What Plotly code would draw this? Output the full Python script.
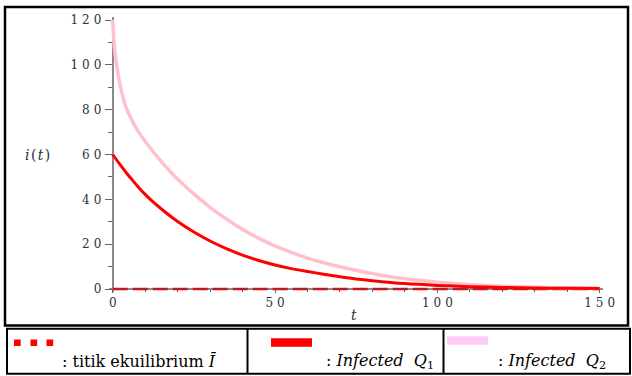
import plotly.graph_objects as go

# ---- data ----
t_q1 = [0, 2, 4, 6, 8, 10, 12, 15, 20, 25, 30, 35, 40, 45, 50, 55, 60, 65, 70, 75, 80, 90, 100, 110, 120, 130, 140, 150]
q1 = [60, 56, 52.2, 48.7, 45.3, 42.2, 39.4, 35.7, 30.1, 25.4, 21.4, 18.0, 15.1, 12.7, 10.7, 9.1, 7.8, 6.6, 5.5, 4.5, 3.7, 2.4, 1.6, 1.05, 0.7, 0.45, 0.3, 0.2]

t_q2 = [0, 0.5, 1, 2, 3, 4, 6, 8, 11.5, 15, 18, 21, 25, 30, 35, 40, 45, 50, 55, 60, 65, 70, 77, 85, 92, 100, 110, 120, 135, 150]
q2 = [120, 108, 102, 93, 86.5, 81.5, 75, 70, 63, 56.8, 52, 47.6, 42.4, 36.4, 31.2, 26.6, 22.6, 19.2, 16.3, 13.8, 11.7, 9.9, 7.7, 5.6, 4.2, 3.0, 1.9, 1.2, 0.6, 0.35]

t_eq = [0, 150]
i_eq = [0, 0]

y_ticks = [0, 20, 40, 60, 80, 100, 120]
x_ticks = [0, 50, 100, 150]

legend_labels = [": titik ekuilibrium <i>Ī</i>",
                 ": <i>Infected</i>\u00a0\u00a0<i>Q</i><sub>1</sub>",
                 ": <i>Infected</i>\u00a0\u00a0<i>Q</i><sub>2</sub>"]

# ---- layout geometry (pixels) ----
W, H = 632, 376
L, R, T, B = 109, 29, 17, 84
PW, PH = W - L - R, H - T - B


def px(x):
    return (x - L) / PW


def py(y):
    return (H - B - y) / PH


def spaced(v):
    return "\u2004".join(str(v))


xr = [-1.14, 151.02]
yr = [-1.34, 121.34]

fig = go.Figure()
fig.add_trace(go.Scatter(x=t_eq, y=i_eq, mode="lines",
                         line=dict(color="#c0181f", width=2.4, dash="15px,5px"),
                         showlegend=False, hoverinfo="skip"))
fig.add_trace(go.Scatter(x=t_q2, y=q2, mode="lines",
                         line=dict(color="#ffc0cb", width=3.5, shape="spline", smoothing=0.8),
                         showlegend=False))
fig.add_trace(go.Scatter(x=t_q1, y=q1, mode="lines",
                         line=dict(color="#ff0000", width=3, shape="spline", smoothing=0.8),
                         showlegend=False))

tickfont = dict(family="DejaVu Serif", size=12, color="#30303c")

fig.update_layout(
    width=W, height=H,
    margin=dict(l=L, r=R, t=T, b=B, pad=0),
    paper_bgcolor="white", plot_bgcolor="white",
    xaxis=dict(range=xr, anchor="free", position=1.34 / (yr[1] - yr[0]),
               showgrid=False, zeroline=False, showline=True, linecolor="#8a8a8a", linewidth=2,
               layer="below traces",
               tickmode="array", tickvals=x_ticks, ticktext=[spaced(v) for v in x_ticks],
               ticks="outside", ticklen=3, tickcolor="#666", tickwidth=1,
               minor=dict(dtick=10, ticks="outside", ticklen=2, tickcolor="#666"),
               tickfont=tickfont, ticklabelstandoff=0),
    yaxis=dict(range=yr, anchor="free", position=1.14 / (xr[1] - xr[0]),
               showgrid=False, zeroline=False, showline=True, linecolor="#8a8a8a", linewidth=2,
               layer="below traces",
               tickmode="array", tickvals=y_ticks, ticktext=[spaced(v) for v in y_ticks],
               ticks="outside", ticklen=7, tickcolor="#666", tickwidth=1,
               minor=dict(dtick=10, ticks="outside", ticklen=4, tickcolor="#666"),
               tickfont=tickfont, ticklabelstandoff=1),
    showlegend=False,
)

shapes = []
# outer plot frame
shapes.append(dict(type="rect", xref="paper", yref="paper",
                   x0=px(5), x1=px(628), y0=py(7), y1=py(325.5),
                   line=dict(color="black", width=2.5)))
# legend table
shapes.append(dict(type="rect", xref="paper", yref="paper",
                   x0=px(7), x1=px(630), y0=py(328.8), y1=py(373.8),
                   line=dict(color="black", width=2)))
for xd in (247.5, 443.5):
    shapes.append(dict(type="line", xref="paper", yref="paper",
                       x0=px(xd), x1=px(xd), y0=py(328.8), y1=py(373.8),
                       line=dict(color="black", width=2)))
# legend symbols
for x0 in (14, 30.5, 46.5):
    shapes.append(dict(type="rect", xref="paper", yref="paper",
                       x0=px(x0), x1=px(x0 + 6.7), y0=py(339.5), y1=py(346),
                       line=dict(width=0), fillcolor="#ff0000"))
shapes.append(dict(type="rect", xref="paper", yref="paper",
                   x0=px(271), x1=px(312), y0=py(338.3), y1=py(346.7),
                   line=dict(width=0), fillcolor="#ff0000"))
shapes.append(dict(type="rect", xref="paper", yref="paper",
                   x0=px(447), x1=px(488), y0=py(336.3), y1=py(344.8),
                   line=dict(width=0), fillcolor="#ffccfa"))
fig.update_layout(shapes=shapes)

annotations = []
labfont = dict(family="DejaVu Serif", size=16, color="black")
for xl, txt in zip((60.5, 324.5, 497), legend_labels):
    annotations.append(dict(xref="paper", yref="paper", x=px(xl), y=py(361),
                            xanchor="left", yanchor="middle", text=txt,
                            showarrow=False, font=labfont, borderpad=0))
axfont = dict(family="DejaVu Serif", size=14, color="#30303c")
annotations.append(dict(xref="paper", yref="paper", x=px(37), y=py(155),
                        xanchor="center", yanchor="middle",
                        text="<i>i</i>\u200a(\u200a<i>t</i>\u200a)",
                        showarrow=False, font=axfont))
annotations.append(dict(xref="paper", yref="paper", x=px(354), y=py(315),
                        xanchor="center", yanchor="middle", text="<i>t</i>",
                        showarrow=False, font=axfont))
fig.update_layout(annotations=annotations)

fig.write_html("out.html")
